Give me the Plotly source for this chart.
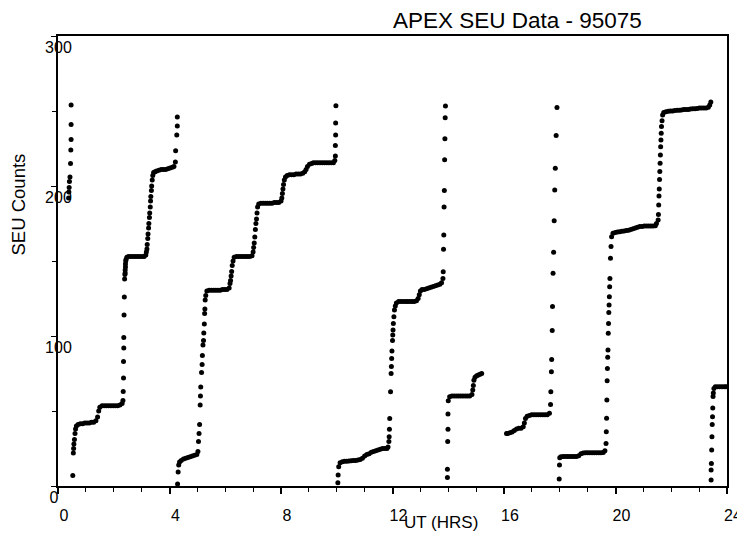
import plotly.graph_objects as go

# ---- data (UT hours, cumulative SEU counts) ----
seg0_x = [0.38, 0.39, 0.40, 0.41, 0.43, 0.45, 0.46, 0.47, 0.47, 0.47]
seg0_y = [192, 196, 199, 203, 206, 215, 224, 231, 241, 254]

seg1_x = [0.53, 0.55, 0.56, 0.57, 0.59, 0.61, 0.63, 0.66,
          0.72, 0.80, 0.88, 0.96, 1.04, 1.12, 1.20, 1.28, 1.36,
          1.42, 1.46, 1.50,
          1.58, 1.66, 1.74, 1.82, 1.90, 1.98, 2.06, 2.14, 2.22, 2.30,
          2.33, 2.34, 2.35, 2.35, 2.36, 2.36, 2.37, 2.38, 2.39, 2.40, 2.41, 2.41, 2.42, 2.42, 2.43, 2.44,
          2.47, 2.53, 2.61, 2.69, 2.77, 2.85, 2.93, 3.01, 3.09, 3.15,
          3.17, 3.19, 3.20, 3.22, 3.23, 3.25, 3.26, 3.28, 3.29, 3.31, 3.32, 3.33, 3.35, 3.36, 3.38, 3.40, 3.43,
          3.48, 3.54, 3.62, 3.70, 3.78, 3.86, 3.94, 4.02, 4.10, 4.16,
          4.21, 4.22, 4.26, 4.28, 4.28]
seg1_y = [7, 22, 25, 28, 31, 35, 38, 40,
          41, 41.5, 41.5, 42, 42, 42, 42.5, 42.5, 43.5,
          46, 50, 52.5,
          53.5, 53.5, 53.5, 53.5, 53.5, 53.5, 53.5, 53.5, 54, 55,
          57, 63, 72, 83, 92, 99, 114, 126, 138, 141, 142, 144, 146, 148, 150, 151,
          152.5, 153, 153, 153, 153, 153, 153, 153, 153, 154,
          156, 158, 161, 165, 168, 172, 175, 179, 182, 186, 190, 193, 197, 200, 204, 207, 209,
          209.5, 210, 210.5, 211, 211, 211, 211.5, 212, 212.5, 213,
          216, 223.5, 234, 240, 246]

seg2_x = [4.29, 4.31, 4.33, 4.36,
          4.42, 4.50, 4.58, 4.66, 4.74, 4.82, 4.90, 4.98,
          5.02, 5.04, 5.06, 5.08, 5.10, 5.11, 5.12, 5.15, 5.17, 5.18, 5.20, 5.22, 5.23, 5.25, 5.26, 5.27, 5.28, 5.30,
          5.34, 5.42, 5.50, 5.58, 5.66, 5.74, 5.82, 5.90, 5.98, 6.06, 6.14,
          6.17, 6.19, 6.21, 6.23, 6.25, 6.28,
          6.32, 6.40, 6.48, 6.56, 6.64, 6.72, 6.80, 6.88, 6.96,
          7.00, 7.02, 7.04, 7.06, 7.08, 7.10, 7.12, 7.14, 7.16,
          7.20, 7.28, 7.36, 7.44, 7.52, 7.60, 7.68, 7.76, 7.84, 7.92, 8.00,
          8.03, 8.05, 8.07, 8.09, 8.12, 8.16,
          8.22, 8.30, 8.38, 8.46, 8.54, 8.62, 8.70, 8.78, 8.85,
          8.90, 8.95, 9.02, 9.10,
          9.16, 9.24, 9.32, 9.40, 9.48, 9.56, 9.64, 9.72, 9.80, 9.88, 9.93,
          9.95, 9.95, 9.96, 9.96, 9.97]
seg2_y = [1.3, 9.3, 14, 16,
          17, 18, 18.5, 19, 19.5, 20, 20.5, 21,
          23, 29.6, 35, 41, 54, 60, 66, 75.6, 81, 87, 94, 97, 102, 108, 115, 118, 124, 127,
          130, 130.5, 130.5, 130.5, 130.5, 130.5, 130.5, 131, 131, 131, 132,
          135, 137, 140, 143, 147, 150,
          152.5, 153, 153, 153, 153, 153, 153, 153, 153.5,
          156, 159, 162, 166, 171, 175, 178, 182, 186,
          188, 188.5, 188.5, 188.5, 188.5, 188.5, 188.5, 189, 189, 189, 190,
          192, 195, 198, 201, 204, 206,
          207, 207.5, 207.5, 207.5, 208, 208, 208, 208.5, 209.5,
          211, 213, 214.5, 215,
          215.5, 215.5, 215.5, 215.5, 215.5, 215.5, 215.5, 215.5, 215.5, 215.5, 217,
          220, 227, 234, 242, 253.5]

seg3_x = [10.04, 10.05, 10.07,
          10.12, 10.20, 10.28, 10.36, 10.44, 10.52, 10.60, 10.68, 10.76, 10.84, 10.92, 11.00,
          11.08, 11.16, 11.24, 11.32, 11.40, 11.48, 11.56, 11.64, 11.72, 11.80, 11.84,
          11.87, 11.88, 11.89, 11.90, 11.93, 11.95, 11.96, 11.97, 11.98, 12.00, 12.01, 12.02, 12.03, 12.05, 12.07, 12.10,
          12.14, 12.22, 12.30, 12.38, 12.46, 12.54, 12.62, 12.70, 12.78, 12.86, 12.92,
          12.96, 13.00,
          13.06, 13.14, 13.22, 13.30, 13.38, 13.46, 13.54, 13.62, 13.70, 13.76,
          13.81, 13.82, 13.83, 13.84, 13.85, 13.86, 13.87, 13.88, 13.89, 13.90]
seg3_y = [2.2, 7.3, 12.9,
          15.5, 16.2, 16.5, 16.5, 16.7, 16.8, 17, 17, 17.3, 17.6, 18.5, 20,
          21, 21.5, 22.5, 23, 23.5, 24, 24.5, 25, 25, 25, 26,
          29.6, 32.9, 37.8, 45, 62.9, 75, 79.6, 85, 90, 97, 100.7, 104, 108.4, 112.9, 117.3, 120,
          122, 123, 123, 123, 123, 123, 123, 123, 123, 123.5, 125,
          127.5, 130,
          131, 131, 131.5, 132, 132.5, 133, 133.5, 134, 134.5, 135.5,
          138.4, 142.9, 157.8, 167.3, 186, 197, 217.5, 231.5, 245.5, 253.3]

seg4_x = [13.97, 13.97, 13.98, 13.99, 13.99, 14.00,
          14.05, 14.13, 14.21, 14.29, 14.37, 14.45, 14.53, 14.61, 14.69, 14.77, 14.85,
          14.88, 14.90, 14.92, 14.96, 15.02, 15.08, 15.14, 15.20]
seg4_y = [5.6, 11.1, 29.6, 37.8, 48, 56.9,
          59.5, 60, 60, 60, 60, 60, 60, 60, 60, 60, 61,
          64, 67, 70.5, 72.5, 73.5, 74, 74.5, 75]

seg5_x = [16.09, 16.13, 16.21, 16.29, 16.37, 16.45, 16.53, 16.61, 16.69, 16.73, 16.77,
          16.83, 16.91, 16.99, 17.07, 17.15, 17.23, 17.31, 17.39, 17.47, 17.55, 17.63,
          17.67, 17.68, 17.70, 17.71, 17.73, 17.74, 17.76, 17.78, 17.80, 17.82, 17.84, 17.87, 17.90]
seg5_y = [35, 35, 35.5, 36, 37, 38, 38.5, 38.5, 39.5, 42, 45,
          46.5, 47, 47.5, 47.5, 47.5, 47.5, 47.5, 47.5, 47.5, 47.5, 48.5,
          54.4, 62.9, 76.2, 84.4, 103.6, 119.6, 141.8, 155.8, 176.9, 197.3, 211.8, 233.6, 252.4]

seg6_x = [17.98, 17.99, 18.00,
          18.04, 18.12, 18.20, 18.28, 18.36, 18.44, 18.52, 18.60, 18.68, 18.76, 18.84,
          18.92, 19.00, 19.08, 19.16, 19.24, 19.32, 19.40, 19.48, 19.56, 19.62,
          19.66, 19.67, 19.68, 19.69, 19.70, 19.71, 19.72, 19.73, 19.74, 19.75, 19.76, 19.77, 19.78, 19.79,
          19.80, 19.82, 19.84, 19.86,
          19.91, 19.99, 20.07, 20.15, 20.23, 20.31, 20.39, 20.47, 20.55, 20.63, 20.71, 20.79, 20.87,
          20.95, 21.03, 21.11, 21.19, 21.27, 21.35, 21.43, 21.47,
          21.53, 21.54, 21.55, 21.56, 21.57, 21.58, 21.59, 21.60, 21.61, 21.62, 21.63, 21.64, 21.65, 21.67, 21.69,
          21.73, 21.81, 21.89, 21.97, 22.05, 22.13, 22.21, 22.29, 22.37, 22.45, 22.53, 22.61, 22.69,
          22.77, 22.85, 22.93, 23.01, 23.09, 23.17, 23.25, 23.33, 23.38, 23.42]
seg6_y = [4.7, 14, 18.9,
          19.5, 19.6, 19.6, 19.6, 19.6, 19.6, 19.6, 19.7, 20.2, 21.5, 22,
          22.2, 22.2, 22.2, 22.2, 22.2, 22.2, 22.2, 22.2, 22.3, 23.5,
          28.4, 36.2, 45.1, 57.3, 70.2, 78.4, 85.8, 90.7, 101.8, 108.4, 115.6, 120.7, 126.2, 132.9,
          138.4, 151.8, 159.6, 166.2,
          168.5, 169, 169.3, 169.5, 169.8, 170, 170.3, 170.5, 171, 171.5, 172, 172.5, 173,
          173, 173.3, 173.3, 173.3, 173.3, 173.3, 173.5, 175,
          177.3, 181, 187.3, 193.3, 198, 204.4, 209.6, 215.1, 220.7, 226.2, 230.7, 235.1, 239.6, 243.5, 247.3,
          249, 249.5, 249.8, 250, 250, 250.3, 250.5, 250.5, 250.7, 251, 251, 251, 251.3,
          251.5, 251.5, 251.7, 252, 252, 252, 252, 252.5, 254, 256]

seg7_x = [23.43, 23.43, 23.44, 23.45, 23.46, 23.47, 23.48, 23.49, 23.50, 23.51, 23.53,
          23.58, 23.66, 23.74, 23.82, 23.90, 23.96]
seg7_y = [4, 10.7, 15, 24, 32.9, 41, 46.2, 52, 59.6, 62, 65,
          66.2, 66.2, 66.2, 66.2, 66.2, 66.2]

segments = [(seg0_x, seg0_y), (seg1_x, seg1_y), (seg2_x, seg2_y), (seg3_x, seg3_y),
            (seg4_x, seg4_y), (seg5_x, seg5_y), (seg6_x, seg6_y), (seg7_x, seg7_y)]

y_tick_vals = [0, 100, 200, 300]
y_tick_text = ["0\u00a0\u00a0\u00a0", "100", "200", "300"]

title_text = "APEX SEU Data - 95075"
x_label = "UT (HRS)"
y_label = "SEU Counts"

FONT = "Liberation Sans, Arial, Helvetica, sans-serif"

fig = go.Figure()
for sx, sy in segments:
    fig.add_trace(go.Scatter(
        x=sx, y=sy, mode="markers",
        marker=dict(color="black", size=5, line=dict(width=0)),
        showlegend=False, hoverinfo="x+y"))

# the page body adds an 8px offset; margins compensate for it
fig.update_layout(
    width=745, height=540,
    margin=dict(l=50, r=26, t=28, b=62, autoexpand=False),
    paper_bgcolor="white", plot_bgcolor="white",
    font=dict(family=FONT, color="black"),
    title=dict(text=title_text, x=385 / 745, xanchor="left",
               y=1 - 12 / 540, yanchor="middle",
               font=dict(size=22.5, family=FONT, color="black")),
)

fig.update_xaxes(
    range=[0, 24], tickmode="linear", tick0=0, dtick=4, automargin=False,
    showline=True, linecolor="black", linewidth=2, mirror=True,
    ticks="outside", ticklen=6, tickwidth=1.5, tickcolor="black",
    minor=dict(dtick=1, ticks="outside", ticklen=4, tickwidth=1, tickcolor="black"),
    showgrid=False, zeroline=False,
    tickfont=dict(size=16, family=FONT, color="black"),
    ticklabelstandoff=8, ticklabelshift=6,
)
fig.update_yaxes(
    range=[0, 300], tickmode="array", tickvals=y_tick_vals, ticktext=y_tick_text,
    automargin=False,
    showline=True, linecolor="black", linewidth=2, mirror=True,
    ticks="outside", ticklen=5, tickwidth=1, tickcolor="black",
    minor=dict(dtick=50, ticks="outside", ticklen=4, tickwidth=1, tickcolor="black"),
    showgrid=False, zeroline=False,
    tickfont=dict(size=16, family=FONT, color="black"),
    ticklabelstandoff=-24, ticklabelshift=11,
)

fig.add_annotation(text=y_label, textangle=-90, xref="paper", yref="paper",
                   x=(20 - 58.5) / 668.5, y=(486 - 204) / 450,
                   xanchor="center", yanchor="middle", showarrow=False,
                   font=dict(size=18.5, family=FONT, color="black"))
fig.add_annotation(text=x_label, xref="paper", yref="paper",
                   x=(441 - 58.5) / 668.5, y=(486 - 522) / 450,
                   xanchor="center", yanchor="middle", showarrow=False,
                   font=dict(size=17, family=FONT, color="black"))

fig.write_html("out.html")
